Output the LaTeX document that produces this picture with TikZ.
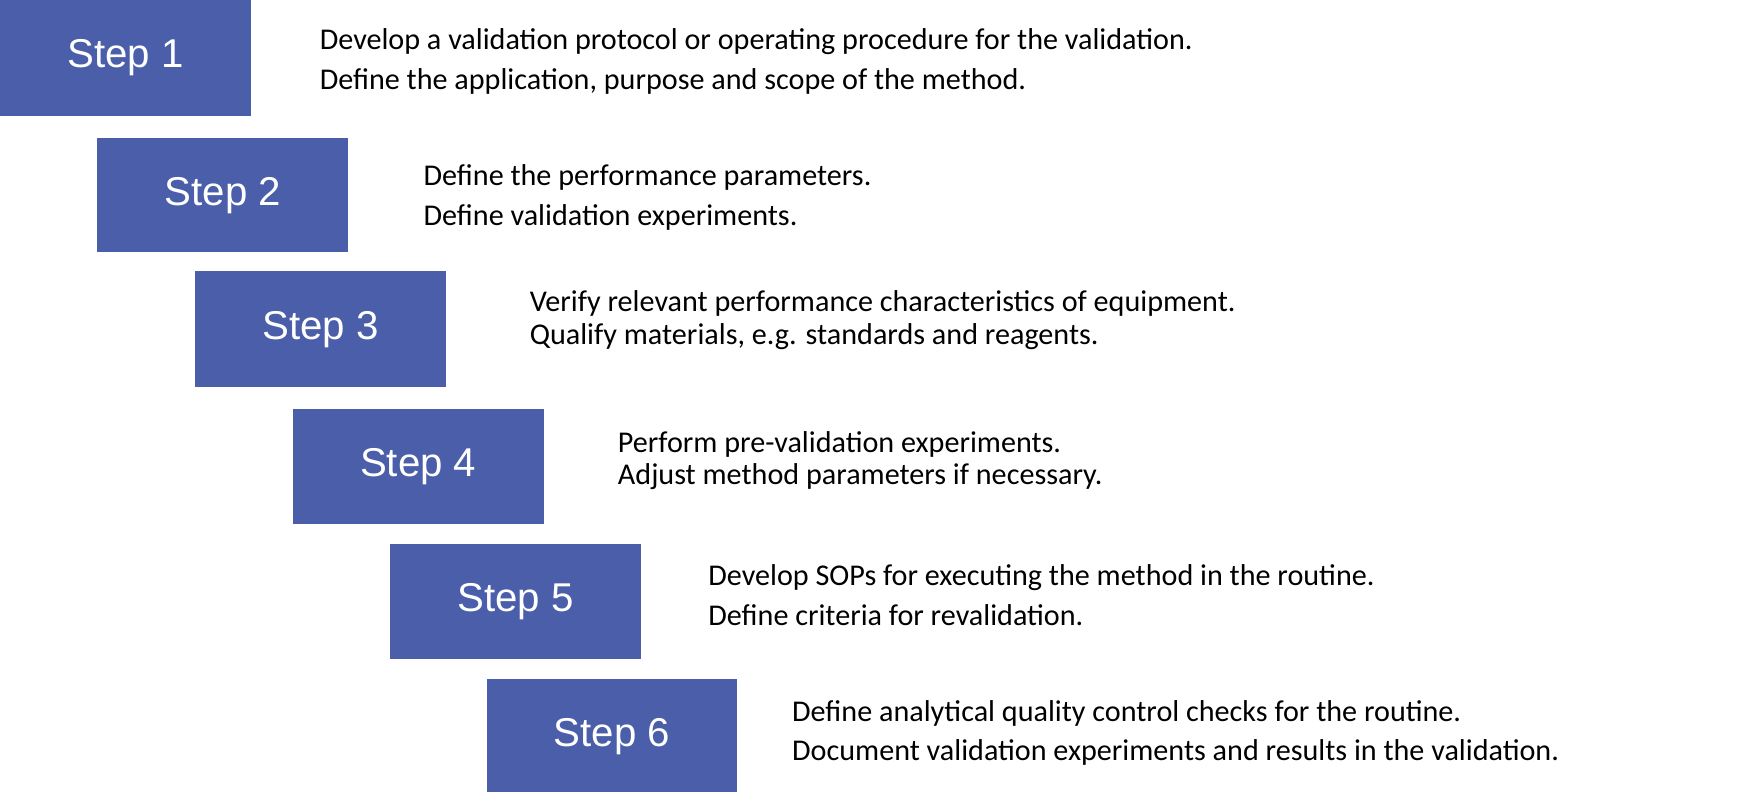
\documentclass[tikz,border=0pt]{standalone}
\usepackage{fontspec}
\setmainfont{Carlito}
\newfontfamily\arialf{Liberation Sans}
\definecolor{stepblue}{HTML}{4A5EAA}
\tikzset{stepbox/.style={fill=stepblue,draw=none,text=white,font=\arialf\fontsize{18}{20}\selectfont},
desc/.style={anchor=west,font=\fontsize{13.5}{16}\selectfont,inner sep=0pt}}
\begin{document}
\begin{tikzpicture}[x=0.5pt,y=-0.5pt]
\useasboundingbox (0,0) rectangle (1560,709);
\foreach \i/\xa/\ya/\xb/\yb/\tx/\la/\lb/\ta/\tb in {
1/0/0/225/104/286/37/73/{Develop a validation protocol or operating procedure for the validation.}/{Define the application, purpose and scope of the method.},
2/87/124/312/226/379/159/195/{Define the performance parameters.}/{Define validation experiments.},
3/175/243/399/347/474/272/301/{Verify relevant performance characteristics of equipment.}/{Qualify materials, e.g. standards and reagents.},
4/262/366/487/469/553/398/427/{Perform pre-validation experiments.}/{Adjust method parameters if necessary.},
5/349/487/574/590/634/517/551/{Develop SOPs for executing the method in the routine.}/{Define criteria for revalidation.},
6/436/608/660/712/709/639/674/{Define analytical quality control checks for the routine.}/{Document validation experiments and results in the validation.}}{
  \fill[stepblue] (\xa,\ya) rectangle (\xb,\yb);
  \node[stepbox] (s\i) at ({(\xa+\xb)/2},{(\ya+\yb)/2}) {Step \i};
  \node[desc] (a\i) at (\tx,\la) {\ta};
  \node[desc] (b\i) at (\tx,\lb) {\tb};
}
\end{tikzpicture}
\end{document}
